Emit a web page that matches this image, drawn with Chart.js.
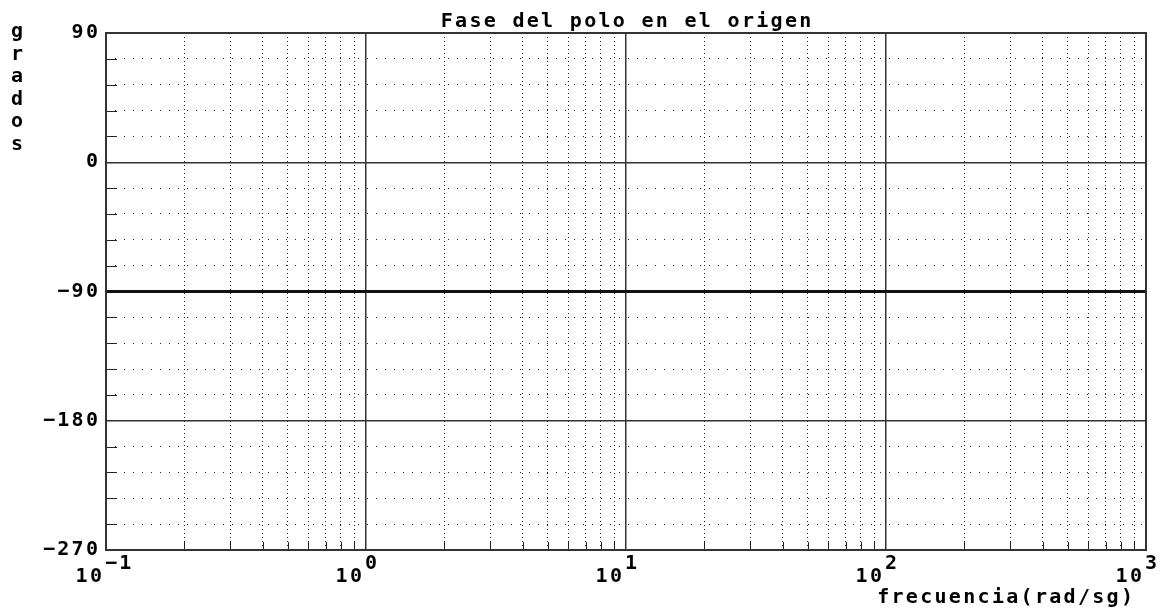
<!DOCTYPE html>
<html>
<head>
<meta charset="utf-8">
<script src="https://cdn.jsdelivr.net/npm/chart.js@4.4.1/dist/chart.umd.min.js"></script>
<style>
  body { margin: 0; background: #fff; }
  #wrap { width: 1166px; height: 609px; position: relative; }
</style>
</head>
<body>
<div id="wrap"><canvas id="phase-chart"></canvas></div>
<script>
// Chart data
const title = 'Fase del polo en el origen';
const xTitle = 'frecuencia(rad/sg)';
const yTitle = 'grados';
const freq = [0.1, 1, 10, 100, 1000];
const phase = [-90, -90, -90, -90, -90];
const decades = [0.1, 1, 10, 100, 1000];
const decadeExponents = ['-1', '0', '1', '2', '3'];
const yTicks = [-270, -180, -90, 0, 90];
const yTickLabels = ['-270', '-180', '-90', '0', '90'];

// grid positions 1..9 per decade
const xGrid = [];
decades.forEach((d, i) => {
    for (let m = 1; m <= 9; m++) {
        if (i === decades.length - 1 && m > 1) break;
        xGrid.push(d * m);
    }
});

const isDecade = v => Math.abs(Math.log10(v) - Math.round(Math.log10(v))) < 1e-6;
const FONT = 'bold 20px "DejaVu Sans Mono"';
const SPACING = 2.3;

// frame, tick stubs and all text
const decorPlugin = {
    id: 'decor',
    afterDatasetsDraw(chart) {
        const { ctx, chartArea: a, scales: { x, y } } = chart;
        ctx.save();
        ctx.strokeStyle = '#222';
        ctx.lineWidth = 1;
        // short stubs on the left and bottom
        y.ticks.forEach(t => {
            if (t.value % 90 === 0) return;
            const py = Math.round(y.getPixelForValue(t.value)) + 0.5;
            ctx.beginPath(); ctx.moveTo(a.left, py); ctx.lineTo(a.left + 11, py); ctx.stroke();
        });
        xGrid.forEach(v => {
            if (isDecade(v)) return;
            const px = Math.round(x.getPixelForValue(v)) + 0.5;
            ctx.beginPath(); ctx.moveTo(px, a.bottom); ctx.lineTo(px, a.bottom - 8); ctx.stroke();
        });
        // frame
        ctx.lineWidth = 2;
        ctx.strokeStyle = '#333';
        ctx.strokeRect(a.left, a.top, a.right - a.left, a.bottom - a.top);

        ctx.fillStyle = '#000';
        ctx.font = FONT;
        ctx.letterSpacing = SPACING + 'px';
        ctx.textBaseline = 'alphabetic';

        // title
        ctx.textAlign = 'center';
        ctx.fillText(title, (a.left + a.right) / 2 + SPACING / 2, 27);

        // y tick labels
        ctx.textAlign = 'right';
        ctx.textBaseline = 'middle';
        yTicks.forEach((v, i) => {
            ctx.fillText(yTickLabels[i].replace('-', '\u2212'), 98 + SPACING, y.getPixelForValue(v));
        });

        // y title, one letter per row
        ctx.textAlign = 'center';
        ctx.textBaseline = 'alphabetic';
        ctx.letterSpacing = '0px';
        yTitle.split('').forEach((ch, i) => {
            ctx.fillText(ch, 17, 37 + i * 22.6);
        });
        ctx.letterSpacing = SPACING + 'px';

        // x tick labels 10^n
        decades.forEach((d, i) => {
            const px = x.getPixelForValue(d);
            ctx.textAlign = 'right';
            ctx.fillText('10', px - 4 + SPACING, 582);
            ctx.textAlign = 'left';
            ctx.fillText(decadeExponents[i].replace('-', '\u2212'), px - 1, 569);
        });

        // x title
        ctx.textAlign = 'right';
        ctx.fillText(xTitle, 1133 + SPACING, 603);
        ctx.restore();
    }
};

const ctx = document.getElementById('phase-chart').getContext('2d');
const phaseChart = new Chart(ctx, {
    type: 'line',
    data: {
        labels: freq,
        datasets: [{
            data: freq.map((f, i) => ({ x: f, y: phase[i] })),
            borderColor: '#111',
            borderWidth: 3,
            pointRadius: 0,
            fill: false
        }]
    },
    options: {
        responsive: true,
        maintainAspectRatio: false,
        animation: false,
        layout: { padding: { left: 0, top: 33, right: 20, bottom: 0 } },
        plugins: {
            legend: { display: false },
            tooltip: { enabled: false },
            title: { display: false }
        },
        scales: {
            x: {
                type: 'logarithmic',
                min: 0.1,
                max: 1000,
                afterBuildTicks: axis => { axis.ticks = xGrid.map(v => ({ value: v })); },
                afterFit: axis => { axis.height = 59; },
                ticks: { display: false, autoSkip: false },
                grid: {
                    drawTicks: false,
                    color: c => (c.tick && isDecade(c.tick.value)) ? '#333' : '#222',
                    lineWidth: c => (c.tick && isDecade(c.tick.value)) ? 1.5 : 1
                },
                border: {
                    display: false,
                    dash: c => (c.tick && !isDecade(c.tick.value)) ? [1, 3] : []
                }
            },
            y: {
                type: 'linear',
                min: -270,
                max: 90,
                afterFit: axis => { axis.width = 106; },
                ticks: { display: false, stepSize: 18 },
                grid: {
                    drawTicks: false,
                    color: c => (c.tick && c.tick.value % 90 === 0) ? '#333' : '#222',
                    lineWidth: c => (c.tick && c.tick.value % 90 === 0) ? 1.5 : 1
                },
                border: {
                    display: false,
                    dash: c => (c.tick && c.tick.value % 90 !== 0) ? [1, 8] : []
                }
            }
        }
    },
    plugins: [decorPlugin]
});
</script>
</body>
</html>
